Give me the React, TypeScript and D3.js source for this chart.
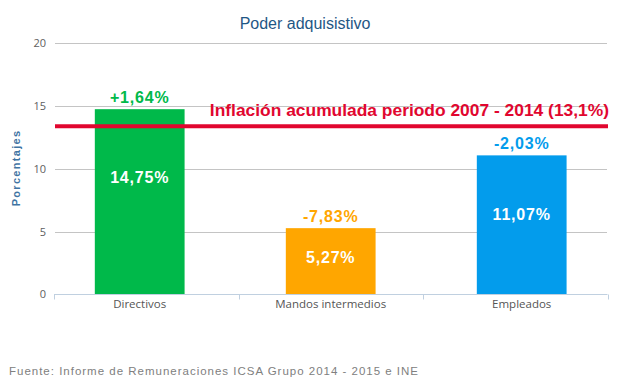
import { useRef, useEffect } from 'react';
import * as d3 from 'd3';

const WIDTH = 623;
const HEIGHT = 385;

const categories = ['Directivos', 'Mandos intermedios', 'Empleados'];
const values = [14.75, 5.27, 11.07];
const valueLabels = ['14,75%', '5,27%', '11,07%'];
const changeLabels = ['+1,64%', '-7,83%', '-2,03%'];
const barColors = ['#00b94a', '#ffa600', '#039cec'];
const yTicks = [0, 5, 10, 15, 20];

// red reference line (drawn where it sits in the source picture)
const inflationLevel = 13.4;
const inflationLabel = 'Inflación acumulada periodo 2007 - 2014 (13,1%)';

// the white value labels are not centred in the bars, keep their levels apart
const innerLabelLevels = [8.9, 2.5, 5.9];

const TITLE = 'Poder adquisistivo';
const Y_TITLE = 'Porcentajes';
const SOURCE = 'Fuente: Informe de Remuneraciones ICSA Grupo 2014 - 2015 e INE';

const GRID_COLOR = '#c4c4c4';
const AXIS_COLOR = '#c0d0e0';
const RED = '#e1062f';

const App = () => {
  const svgRef = useRef<SVGSVGElement | null>(null);

  useEffect(() => {
    const svg = d3.select(svgRef.current);
    svg.selectAll('*').remove();

    const left = 54;
    const right = 607.5;

    const y = d3.scaleLinear().domain([0, 20]).range([294.3, 43.3]);

    // bars band (slightly wider spread than the axis ticks, as in the source)
    const x = d3
      .scaleBand()
      .domain(categories)
      .range([44.2, 617.2])
      .paddingInner(0.53)
      .paddingOuter(0.265);

    // axis band, ticks fall on band edges
    const xAxisBand = d3.scaleBand().domain(categories).range([left, right]);

    // title
    svg
      .append('text')
      .attr('x', 305)
      .attr('y', 29)
      .attr('text-anchor', 'middle')
      .style('font-family', '"Liberation Sans", Arial, sans-serif')
      .style('font-size', '16px')
      .attr('fill', '#1f5785')
      .text(TITLE);

    // gridlines
    svg
      .append('g')
      .selectAll('line')
      .data(yTicks.filter((d) => d > 0))
      .join('line')
      .attr('x1', 55)
      .attr('x2', 607)
      .attr('y1', (d) => Math.round(y(d)) + 0.5)
      .attr('y2', (d) => Math.round(y(d)) + 0.5)
      .attr('stroke', GRID_COLOR)
      .attr('stroke-width', 1);

    // y tick labels
    svg
      .append('g')
      .selectAll('text')
      .data(yTicks)
      .join('text')
      .attr('x', 46)
      .attr('y', (d) => y(d) + 4)
      .attr('text-anchor', 'end')
      .style('font-family', '"Open Sans", sans-serif')
      .style('font-size', '11px')
      .attr('fill', '#606060')
      .text((d) => d);

    // y axis title
    svg
      .append('text')
      .attr('transform', 'translate(20,168) rotate(-90)')
      .attr('text-anchor', 'middle')
      .style('font-family', '"Liberation Sans", Arial, sans-serif')
      .style('font-size', '11px')
      .style('font-weight', 'bold')
      .style('letter-spacing', '1.3px')
      .attr('fill', '#3f74a3')
      .text(Y_TITLE);

    // bars
    svg
      .append('g')
      .selectAll('rect')
      .data(values)
      .join('rect')
      .attr('x', (d, i) => x(categories[i]) as number)
      .attr('y', (d) => y(d))
      .attr('width', x.bandwidth())
      .attr('height', (d) => y(0) - y(d))
      .attr('fill', (d, i) => barColors[i]);

    // x axis line + ticks
    const axisY = Math.round(y(0)) + 0.5;
    svg
      .append('line')
      .attr('x1', left)
      .attr('x2', right)
      .attr('y1', axisY)
      .attr('y2', axisY)
      .attr('stroke', AXIS_COLOR);

    const tickPos = categories.map((c) => xAxisBand(c) as number).concat(right);
    svg
      .append('g')
      .selectAll('line')
      .data(tickPos)
      .join('line')
      .attr('x1', (d) => Math.round(d) + 0.5)
      .attr('x2', (d) => Math.round(d) + 0.5)
      .attr('y1', axisY)
      .attr('y2', axisY + 5)
      .attr('stroke', AXIS_COLOR);

    // category labels
    svg
      .append('g')
      .selectAll('text')
      .data(categories)
      .join('text')
      .attr('x', (d) => (x(d) as number) + x.bandwidth() / 2)
      .attr('y', 308)
      .attr('text-anchor', 'middle')
      .style('font-family', '"Open Sans", sans-serif')
      .style('font-size', '11.5px')
      .attr('fill', '#555')
      .text((d) => d);

    // change labels above bars
    svg
      .append('g')
      .selectAll('text')
      .data(values)
      .join('text')
      .attr('x', (d, i) => (x(categories[i]) as number) + x.bandwidth() / 2)
      .attr('y', (d) => y(d) - 6)
      .attr('text-anchor', 'middle')
      .style('font-family', '"Liberation Sans", Arial, sans-serif')
      .style('font-size', '16px')
      .style('font-weight', 'bold')
      .style('letter-spacing', '0.8px')
      .attr('fill', (d, i) => barColors[i])
      .text((d, i) => changeLabels[i]);

    // value labels inside bars
    svg
      .append('g')
      .selectAll('text')
      .data(innerLabelLevels)
      .join('text')
      .attr('x', (d, i) => (x(categories[i]) as number) + x.bandwidth() / 2)
      .attr('y', (d) => y(d))
      .attr('text-anchor', 'middle')
      .style('font-family', '"Liberation Sans", Arial, sans-serif')
      .style('font-size', '16px')
      .style('font-weight', 'bold')
      .style('letter-spacing', '0.8px')
      .attr('fill', '#ffffff')
      .text((d, i) => valueLabels[i]);

    // inflation line + label
    svg
      .append('line')
      .attr('x1', 55)
      .attr('x2', 608)
      .attr('y1', y(inflationLevel))
      .attr('y2', y(inflationLevel))
      .attr('stroke', RED)
      .attr('stroke-width', 4);

    svg
      .append('text')
      .attr('x', 609)
      .attr('y', 116)
      .attr('text-anchor', 'end')
      .style('font-family', '"Liberation Sans", Arial, sans-serif')
      .style('font-size', '17.4px')
      .style('font-weight', 'bold')
      .attr('fill', RED)
      .text(inflationLabel);

    // source note
    svg
      .append('text')
      .attr('x', 9)
      .attr('y', 374.5)
      .attr('textLength', 409)
      .attr('lengthAdjust', 'spacing')
      .style('font-family', '"Liberation Sans", Arial, sans-serif')
      .style('font-size', '11.5px')
      .attr('fill', '#808080')
      .text(SOURCE);
  }, []);

  return (
    <svg
      ref={svgRef}
      width={WIDTH}
      height={HEIGHT}
      style={{ position: 'absolute', left: 0, top: 0, background: '#fff' }}
    />
  );
};

export default App;
